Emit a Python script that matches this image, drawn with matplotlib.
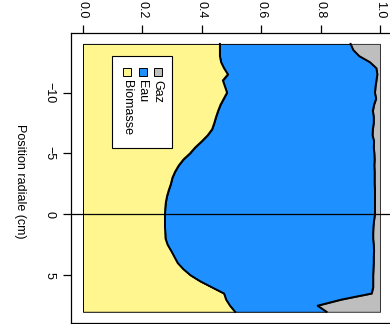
import matplotlib
matplotlib.use("Agg")
import matplotlib.pyplot as plt
from matplotlib.patches import Rectangle
import numpy as np

plt.rcParams['font.family'] = ['Liberation Sans', 'DejaVu Sans']

# Radial position (cm)
position = [-14, -13.5, -13, -12.5, -12, -11.5, -11, -10.5, -10, -9.5, -9, -8.5,
            -8, -7.5, -7, -6.5, -6, -5.5, -5, -4.5, -4, -3.5, -3, -2.5, -2, -1.5,
            -1, -0.5, 0, 0.5, 1, 1.5, 2, 2.5, 3, 3.5, 4, 4.5, 5, 5.5, 6, 6.5, 7,
            7.5, 8]
# Phase fractions
biomasse = [0.461, 0.461, 0.461, 0.465, 0.475, 0.488, 0.471, 0.478, 0.485, 0.474,
            0.463, 0.455, 0.448, 0.442, 0.435, 0.420, 0.400, 0.378, 0.360, 0.338,
            0.322, 0.310, 0.301, 0.296, 0.289, 0.283, 0.279, 0.277, 0.276, 0.276,
            0.276, 0.277, 0.278, 0.285, 0.297, 0.308, 0.319, 0.338, 0.362, 0.395,
            0.435, 0.475, 0.482, 0.495, 0.512]
eau = [0.440, 0.449, 0.469, 0.501, 0.513, 0.503, 0.517, 0.507, 0.498, 0.513,
       0.517, 0.521, 0.531, 0.537, 0.541, 0.555, 0.580, 0.601, 0.621, 0.644,
       0.659, 0.672, 0.681, 0.686, 0.694, 0.700, 0.704, 0.706, 0.707, 0.704,
       0.702, 0.700, 0.699, 0.694, 0.683, 0.671, 0.660, 0.640, 0.615, 0.582,
       0.542, 0.497, 0.388, 0.295, 0.308]
gaz = [0.099, 0.090, 0.070, 0.034, 0.012, 0.009, 0.012, 0.015, 0.017, 0.013,
       0.020, 0.024, 0.021, 0.021, 0.024, 0.025, 0.020, 0.021, 0.019, 0.018,
       0.019, 0.018, 0.018, 0.018, 0.017, 0.017, 0.017, 0.017, 0.017, 0.020,
       0.022, 0.023, 0.023, 0.021, 0.020, 0.021, 0.021, 0.022, 0.023, 0.023,
       0.023, 0.028, 0.130, 0.210, 0.180]

phases = ["Biomasse", "Eau", "Gaz"]
colors = ["#FFF68F", "#1E90FF", "#BEBEBE"]
xticks = [0.0, 0.2, 0.4, 0.6, 0.8, 1.0]
xticklabels = ["0.0", "0.2", "0.4", "0.6", "0.8", "1.0"]
yticks = [-10, -5, 0, 5]
yticklabels = ["\u221210", "\u22125", "0", "5"]
ylabel = "Position radiale (cm)"

W, H = 390, 324
fig = plt.figure(figsize=(W / 100, H / 100), dpi=100)
ax = fig.add_axes([71.1 / W, 1 - 322.5 / H, (391.9 - 71.1) / W, (322.5 - 33.2) / H])

pos = np.array(position)
b = np.array(biomasse)
e = np.array(eau)
g = np.array(gaz)
c1 = b
c2 = b + e
c3 = b + e + g

ax.fill_betweenx(pos, 0, c1, facecolor=colors[0], edgecolor="black", linewidth=0.7)
ax.fill_betweenx(pos, c1, c2, facecolor=colors[1], edgecolor="black", linewidth=0.7)
ax.fill_betweenx(pos, c2, c3, facecolor=colors[2], edgecolor="#333333", linewidth=0.7)
ax.plot(c1, pos, color="black", linewidth=1.4)
ax.plot(c2, pos, color="black", linewidth=1.4)
ax.axhline(0, color="black", linewidth=0.9)

ax.set_xlim(-0.04, 1.04)
ax.set_ylim(8.88, -14.88)
for s in ax.spines.values():
    s.set_linewidth(0.9)

ax.xaxis.tick_top()
ax.set_xticks(xticks)
ax.set_xticklabels(xticklabels, rotation=-90, fontsize=9)
ax.set_yticks(yticks)
ax.set_yticklabels(yticklabels, rotation=-90, fontsize=9, va="center")
ax.tick_params(axis="x", length=5.5, width=0.9, pad=5)
ax.tick_params(axis="y", length=5.5, width=0.9, pad=6)

fig.text(20 / W, 1 - 181 / H, ylabel, rotation=-90, fontsize=9,
         ha="center", va="center")

# legend (rotated, drawn manually)
fig.add_artist(Rectangle((112 / W, 1 - 148 / H), 60 / W, 92 / H,
                         transform=fig.transFigure, facecolor="white",
                         edgecolor="black", linewidth=0.8))
legend_x = [127, 142.5, 157.5]
for name, col, xc in zip(phases, colors, legend_x):
    fig.add_artist(Rectangle(((xc - 4) / W, 1 - 76 / H), 8 / W, 8 / H,
                             transform=fig.transFigure, facecolor=col,
                             edgecolor="black", linewidth=0.7))
    fig.text(xc / W, 1 - 80 / H, name, rotation=-90, fontsize=9,
             ha="center", va="top")

fig.savefig("out.png", dpi=100)
